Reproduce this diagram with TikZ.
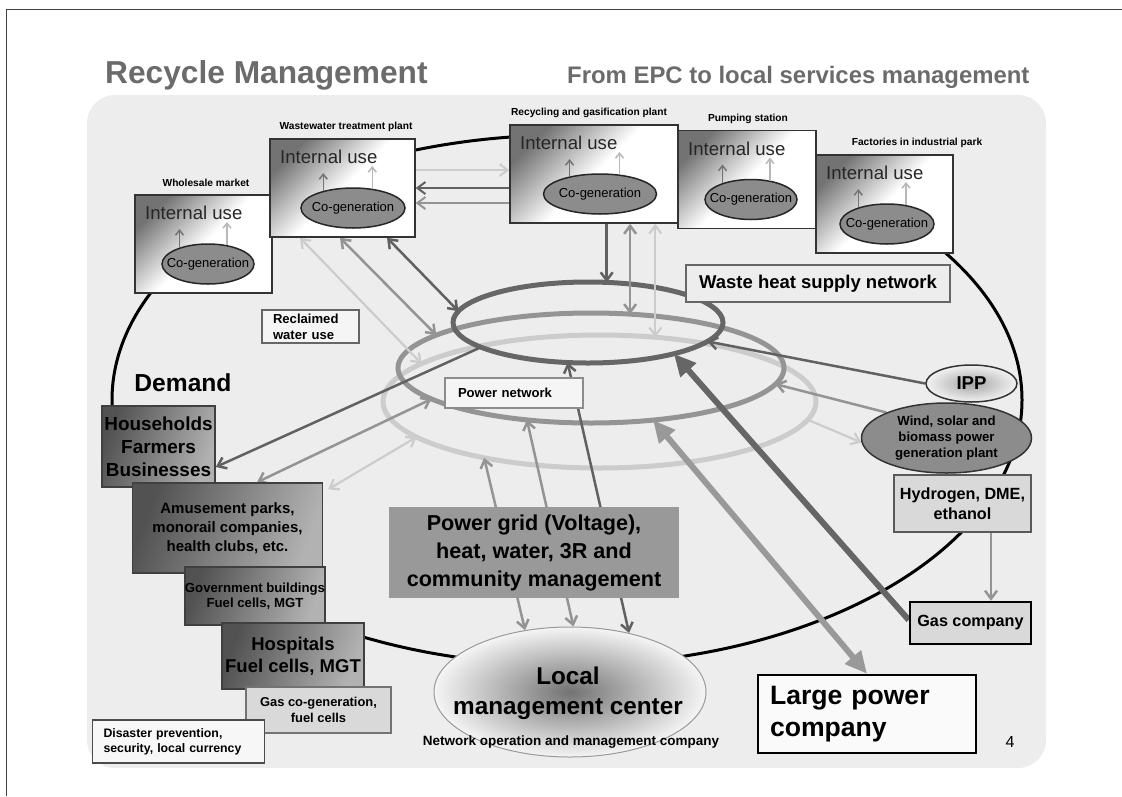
\documentclass[tikz,border=0pt]{standalone}
\usepackage{fontspec}
\setmainfont{Liberation Sans}
\usetikzlibrary{shapes.geometric,arrows.meta}
\pgfdeclarelayer{bg}
\pgfdeclarelayer{back}
\pgfsetlayers{bg,back,main}

\begin{document}
\begin{tikzpicture}[x=1pt,y=-1pt,>={Straight Barb[length=8pt,width=12pt]}]
    \tikzstyle{plant}=[rectangle,draw=black!80,line width=1.5pt,minimum height=98pt,top color=black!55,bottom color=white,middle color=white,shading angle=45]
    \tikzstyle{plantlbl}=[font=\bfseries\fontsize{10.2}{12}\selectfont,inner sep=0pt]
    \tikzstyle{iu}=[font=\fontsize{18.6}{22}\selectfont,text=black!85,inner sep=0pt]
    \tikzstyle{cogen}=[ellipse,draw=black!85,line width=1.5pt,fill=black!45,minimum height=40pt,inner sep=0pt]
    \tikzstyle{cgtext}=[font=\fontsize{13}{15}\selectfont,inner sep=0pt]
    \tikzstyle{smalldk}=[draw=black!55,line width=1.5pt,-{Straight Barb[length=5pt,width=8pt]}]
    \tikzstyle{smalllt}=[draw=black!28,line width=1.5pt,-{Straight Barb[length=5pt,width=8pt]}]
    \tikzstyle{user}=[draw=black!75,line width=1.5pt,top color=black!68,bottom color=black!30,shading angle=70,align=center,inner sep=0pt]
    \tikzstyle{ring}=[ellipse,line width=5pt,inner sep=0pt,outer sep=0pt]
    \tikzstyle{dk}=[draw=black!62,line width=2.5pt]
    \tikzstyle{md}=[draw=black!42,line width=2.5pt]
    \tikzstyle{lt}=[draw=black!20,line width=2.2pt]
    \tikzstyle{fat}=[line width=6pt]

    \useasboundingbox (0,0) rectangle (1122,796);

    \begin{pgfonlayer}{bg}
        \draw[black!75,line width=1pt] (6,796) -- (6,9.3) -- (1122,9.3);
        \fill[black!7,rounded corners=28pt] (87,95) rectangle (1046,768);
    \end{pgfonlayer}

    \node[anchor=base west,font=\bfseries\fontsize{31.7}{36}\selectfont,text=black!58,inner sep=0pt] (title) at (105,83) {Recycle Management};
    \node[anchor=base west,font=\bfseries\fontsize{23.9}{28}\selectfont,text=black!58,inner sep=0pt] (subtitle) at (567,83) {From EPC to local services management};

    \foreach \n/\x/\y/\w/\lx/\cx/\cw/\t in {whole/203.5/244/137/2.5/4.5/92/Wholesale market,
        ww/342.5/188/145/3.5/10.5/104/Wastewater treatment plant,
        recyc/594/174/168/-5/6/113/Recycling and gasification plant,
        pump/747/179.5/138/1/4/92/Pumping station,
        fact/884.5/204/137/32.5/2.5/94/Factories in industrial park}
    {
        \node[plant,minimum width=\w pt] (\n) at (\x,\y) {};
        \node[plantlbl] (\n-lbl) at (\x+\lx,\y-61) {\t};
        \node[iu,anchor=west] (\n-iu) at (\x-\w/2+10,\y-31) {Internal use};
        \node[cogen,minimum width=\cw pt,label={[cgtext]center:Co-generation}] (\n-cg) at (\x+\cx,\y+20) {};
        \draw[smalldk] (\n-cg.150) -- ([yshift=-9pt]\n-cg.150 |- \n-iu.south);
        \draw[smalllt] (\n-cg.45) -- ([yshift=-2pt]\n-cg.45 |- \n-iu.south);
    }

    \node[draw=black!60,line width=2pt,fill=black!7,minimum width=264pt,minimum height=37pt,font=\bfseries\fontsize{18.5}{22}\selectfont] (heatlbl) at (818,283.5) {Waste heat supply network};
    \node[draw=black!60,line width=2pt,fill=black!4,minimum height=33pt,text width=75pt,inner xsep=11pt,align=left,font=\bfseries\fontsize{13.1}{16}\selectfont] (reclaim) at (310.5,326.5) {Reclaimed\\water use};
    \node[font=\bfseries\fontsize{24.6}{28}\selectfont,inner sep=0pt] (demand) at (183,383) {Demand};
    \node[draw=black!45,line width=1.5pt,fill=black!4,minimum height=30pt,text width=112pt,inner xsep=13pt,align=left,font=\bfseries\fontsize{13.1}{15}\selectfont] (pnet) at (514,393) {Power network};

    \node[user,minimum width=113pt,minimum height=81pt,font=\bfseries\fontsize{18.9}{23}\selectfont] (hh) at (158.5,446.5) {Households\\Farmers\\Businesses};
    \node[user,minimum width=190pt,minimum height=90pt,font=\bfseries\fontsize{15}{19}\selectfont] (amuse) at (227.5,528) {Amusement parks,\\monorail companies,\\health clubs, etc.};
    \node[user,minimum width=130pt,minimum height=58pt,font=\bfseries\fontsize{13.2}{15}\selectfont] (gov) at (255,596) {Government buildings\\Fuel cells, MGT};
    \node[user,minimum width=142pt,minimum height=66pt,font=\bfseries\fontsize{18.5}{22}\selectfont] (hosp) at (293,656) {Hospitals\\Fuel cells, MGT};
    \node[draw=black!55,line width=1.5pt,fill=black!15,minimum width=145pt,minimum height=46pt,align=center,font=\bfseries\fontsize{12.9}{15.5}\selectfont] (gcg) at (318.5,710) {Gas co-generation,\\fuel cells};
    \node[draw=black!70,line width=1.5pt,fill=black!3,minimum height=43pt,text width=150pt,inner xsep=11pt,align=left,font=\bfseries\fontsize{12.3}{15}\selectfont] (dis) at (178.5,741.5) {Disaster prevention,\\security, local currency};

    \node[fill=black!40,minimum width=290pt,minimum height=91pt,align=center,font=\bfseries\fontsize{21.6}{28}\selectfont] (grid) at (534,552.5) {Power grid (Voltage),\\heat, water, 3R and\\community management};

    \node[ellipse,draw=black!40,line width=1pt,inner color=black!55,outer color=black!4,minimum width=272pt,minimum height=130pt,inner sep=0pt] (mgmt) at (570,692) {};
    \node[font=\bfseries\fontsize{24.3}{30}\selectfont,align=center,inner sep=0pt] (mgmttxt) at (568,693) {Local\\management center};
    \node[font=\bfseries\fontsize{13.5}{16}\selectfont,inner sep=0pt] (netop) at (571,742) {Network operation and management company};

    \node[draw=black,line width=2.5pt,fill=black!2,minimum height=78pt,text width=194pt,inner xsep=12pt,align=left,font=\bfseries\fontsize{26.6}{32}\selectfont] (lpc) at (867,714) {Large power\\company};
    \node[font=\fontsize{16}{18}\selectfont,inner sep=0pt] (pageno) at (1010,742) {4};

    \node[draw=black,line width=2.5pt,fill=black!15,minimum width=121pt,minimum height=42pt,font=\bfseries\fontsize{16.2}{19}\selectfont] (gas) at (970.5,623) {Gas company};
    \node[draw=black!65,line width=1.5pt,fill=black!15,minimum width=137pt,minimum height=57pt,align=center,font=\bfseries\fontsize{16.2}{19.5}\selectfont] (h2) at (962.5,503.5) {Hydrogen, DME,\\ethanol};
    \node[ellipse,draw=black!80,line width=1.5pt,fill=black!45,minimum width=170pt,minimum height=70pt,inner sep=0pt,align=center,font=\bfseries\fontsize{13.2}{16}\selectfont] (wind) at (946.5,438) {Wind, solar and\\biomass power\\generation plant};
    \node[ellipse,draw=black!80,line width=1.5pt,inner color=black!35,outer color=black!5,minimum width=91pt,minimum height=37pt,inner sep=0pt,font=\bfseries\fontsize{18.6}{22}\selectfont] (ipp) at (971.5,383.5) {IPP};

    \begin{pgfonlayer}{back}
        \node[ellipse,draw=black,line width=3pt,minimum width=910pt,minimum height=530pt,inner sep=0pt] (loop) at (567,400) {};
        \node[ring,draw=black!20,minimum width=433pt,minimum height=133pt] (pwr) at (599.5,401.5) {};
        \node[ring,draw=black!42,minimum width=386pt,minimum height=110pt] (mid) at (591,368) {};
        \node[ring,draw=black!60,minimum width=270pt,minimum height=81pt] (heat) at (588,322.5) {};

        \draw[dk,->] (heat.65.8 |- recyc.south) -- (heat.65.8);
        \draw[md,<->] (mid.54.1 |- recyc.south) -- (mid.54.1);
        \draw[lt,<->] (pwr.49.2 |- recyc.south) -- (pwr.49.2);

        \draw[lt,->,line width=2pt] ([yshift=18pt]ww.east) -- ([yshift=18pt]ww.east -| recyc.west);
        \draw[dk,<-,line width=2pt] (ww.east) -- (ww.east -| recyc.west);
        \draw[md,<-,line width=2pt] ([yshift=-15pt]ww.east) -- ([yshift=-15pt]ww.east -| recyc.west);

        \draw[dk,<->] ([xshift=44.5pt]ww.south) -- (heat.175);
        \draw[md,<->] ([xshift=-2.5pt]ww.south) -- (mid.168.3);
        \draw[lt,<->] ([xshift=-42.5pt]ww.south) -- (pwr.168.7);

        \draw[dk,->] (heat.193.7) -- ([yshift=-20.5pt]hh.east);
        \draw[md,<->] (mid.191.3) -- ([xshift=29.5pt]amuse.north);
        \draw[lt,<->] (pwr.191.7) -- ([xshift=5pt,yshift=-7pt]amuse.north east);

        \draw[dk,->] (ipp.west) -- (heat.351.9);
        \draw[md,->] (wind.157.9) -- (mid.355.5);
        \draw[lt,->] (pwr.355.4) -- (wind.183);
        \draw[md,->] ([xshift=28.5pt]h2.south) -- ([xshift=28.5pt]h2.south |- gas.north);

        \draw[fat,draw=black!60,-{Triangle[length=22pt,width=20pt]}] ([yshift=3pt]gas.west) -- (heat.340);
        \draw[fat,draw=black!40,{Triangle[length=22pt,width=20pt]}-{Triangle[length=22pt,width=20pt]}] (mid.320) -- (lpc.north);

        \draw[md,<->] (mgmt.126.9) -- (pwr.206.8);
        \draw[md,<->] (mgmt.87.4) -- (mid.219.5);
        \draw[dk,<->] (mgmt.45.4) -- (heat.243.5);
    \end{pgfonlayer}
\end{tikzpicture}
\end{document}
